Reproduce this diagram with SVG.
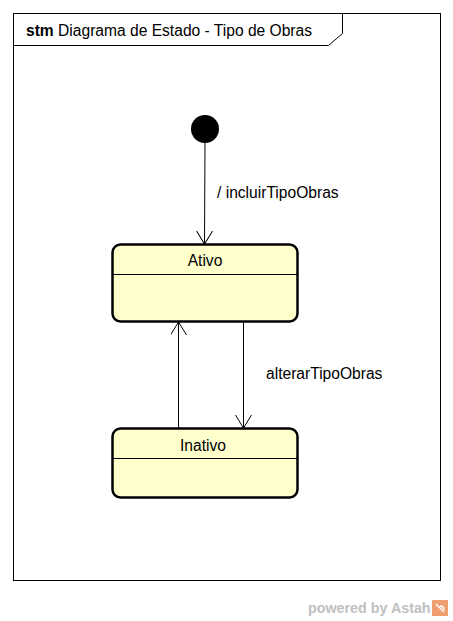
<svg xmlns="http://www.w3.org/2000/svg" width="453" height="621" viewBox="0 0 453 621">
<style>
  .t{font-family:"Liberation Sans",Arial,sans-serif;font-size:15.6px;fill:#000}
  .st{fill:#ffffcc;stroke:#000;stroke-width:2.5}
  .ln{stroke:#000;stroke-width:1;fill:none}
</style>
<defs>
  <marker id="arr" markerWidth="20" markerHeight="20" refX="13" refY="8" orient="auto" markerUnits="userSpaceOnUse">
    <path d="M0,0 L13,8 L0,16" fill="none" stroke="#000" stroke-width="1"/>
  </marker>
</defs>
<rect width="453" height="621" fill="#fff"/>
<g id="frame">
  <rect x="13.5" y="13.5" width="427" height="567" fill="none" stroke="#000"/>
  <path d="M13.5,45.5 H328.5 L342.5,33.5 V13.5" class="ln"/>
  <text x="26" y="36" class="t"><tspan font-weight="bold">stm</tspan> Diagrama de Estado - Tipo de Obras</text>
</g>
<g id="connectors">
  <path d="M205,143 L204.5,244" class="ln" marker-end="url(#arr)"/>
  <text x="217" y="198" class="t">/ incluirTipoObras</text>
  <path d="M243.5,322 V428" class="ln" marker-end="url(#arr)"/>
  <text x="266" y="379" class="t">alterarTipoObras</text>
  <path d="M178.5,428 V322" class="ln" marker-end="url(#arr)"/>
</g>
<g id="initial">
  <circle cx="205" cy="129" r="14" fill="#000"/>
</g>
<g id="ativo">
  <rect x="112.5" y="244.5" width="185" height="77" rx="8" class="st"/>
  <line x1="112.5" y1="274.5" x2="297.5" y2="274.5" class="ln"/>
  <text x="205" y="266" class="t" text-anchor="middle">Ativo</text>
</g>
<g id="inativo">
  <rect x="112.5" y="428.5" width="185" height="69" rx="8" class="st"/>
  <line x1="112.5" y1="458.5" x2="297.5" y2="458.5" class="ln"/>
  <text x="203" y="451" class="t" text-anchor="middle">Inativo</text>
</g>
<g id="watermark">
  <text x="308" y="613" font-family="Liberation Sans,Arial,sans-serif" font-size="14.3" font-weight="bold" fill="#c0c0c0">powered by Astah</text>
  <rect x="432" y="600" width="16" height="16" fill="#f0a070"/>
  <path d="M436,604 L444,612 M440,606 Q444,606 444,610" stroke="#fff" stroke-width="1.5" fill="none"/>
</g>
</svg>
